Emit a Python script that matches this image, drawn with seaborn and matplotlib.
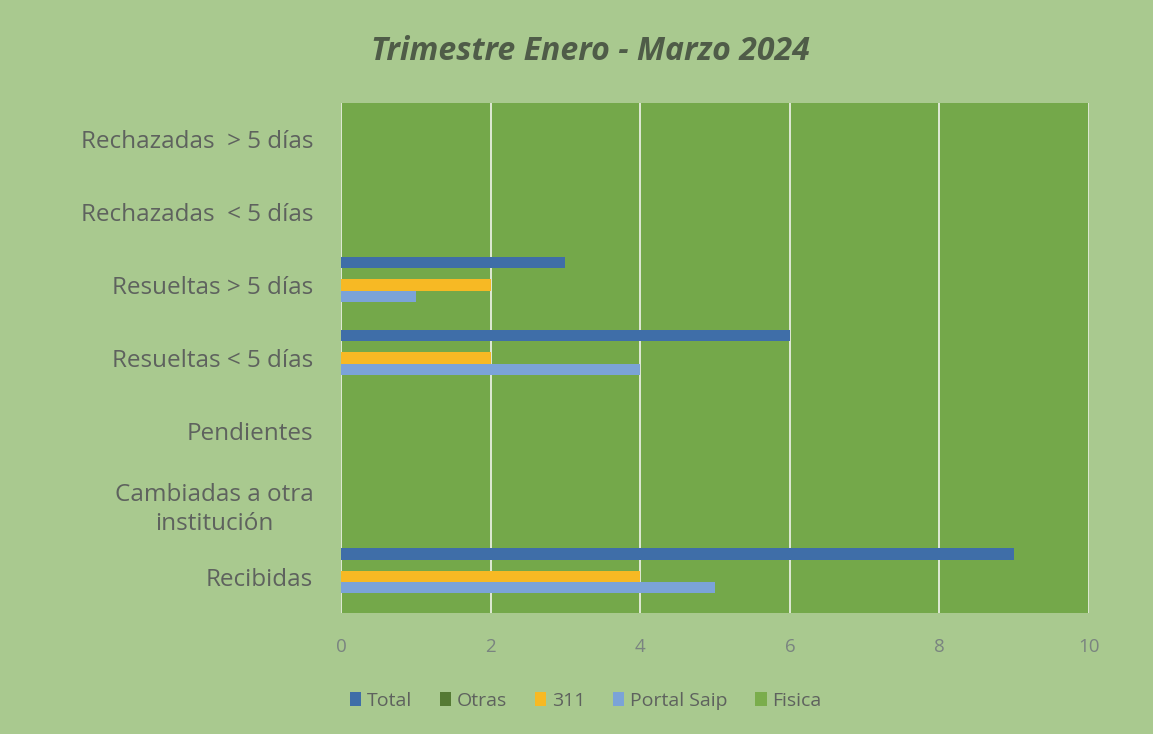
import numpy as np
import pandas as pd
import seaborn as sns
import matplotlib.pyplot as plt

categorias = ["Rechazadas  > 5 días", "Rechazadas  < 5 días", "Resueltas > 5 días",
              "Resueltas < 5 días", "Pendientes", "Cambiadas a otra\ninstitución", "Recibidas"]
series = ["Total", "Otras", "311", "Portal Saip", "Fisica"]
total = [0, 0, 3, 6, 0, 0, 9]
otras = [0, 0, 0, 0, 0, 0, 0]
s311 = [0, 0, 2, 2, 0, 0, 4]
portal = [0, 0, 1, 4, 0, 0, 5]
fisica = [0, 0, 0, 0, 0, 0, 0]
colores = ["#3f6ea8", "#557a34", "#f7b924", "#7ba3d8", "#7aad4c"]

valores = {"Total": total, "Otras": otras, "311": s311, "Portal Saip": portal, "Fisica": fisica}
df = pd.DataFrame([(c, s, valores[s][i]) for s in series for i, c in enumerate(categorias)],
                  columns=["Categoria", "Serie", "Valor"])

sns.set_style("white")
plt.rcParams['font.family'] = ['Open Sans', 'DejaVu Sans']

fig = plt.figure(figsize=(11.53, 7.34), dpi=100)
fig.patch.set_facecolor("#a9c98f")
ax = fig.add_axes([0.2958, 0.1649, 0.6487, 0.6948])
ax.set_facecolor("#74a84a")

sns.barplot(data=df, x="Valor", y="Categoria", hue="Serie", order=categorias,
            hue_order=series, palette=colores, orient="h", width=0.775, gap=0,
            saturation=1, linewidth=0, ax=ax, zorder=3)

ax.set_xlim(0, 10)
ax.set_xticks(range(0, 11, 2))
ax.grid(axis="x", color="#e8eee0", linewidth=1.3, zorder=1)
ax.set_axisbelow(True)
for s in ax.spines.values():
    s.set_visible(False)
ax.set_xlabel("")
ax.set_ylabel("")
ax.tick_params(axis="y", length=0, pad=20, labelsize=17.5, labelcolor="#5e625e")
ax.tick_params(axis="x", length=0, pad=18, labelsize=13.5, labelcolor="#7a8480")
for lbl in ax.get_yticklabels():
    lbl.set_horizontalalignment("right")
    lbl.set_multialignment("center")
    lbl.set_linespacing(1.3)

fig.suptitle("Trimestre Enero - Marzo 2024", x=0.512, y=0.952, fontsize=23,
             fontweight="bold", fontstyle="italic", color="#4f5c48")

handles, labels = ax.get_legend_handles_labels()
ax.get_legend().remove()
for h in handles:
    h.set_linewidth(0)
fig.legend(handles, labels, loc="center", bbox_to_anchor=(0.508, 0.045), ncol=5,
           frameon=False, fontsize=14, handlelength=0.6, handleheight=0.75,
           handletextpad=0.3, columnspacing=1.4, labelcolor="#5e625e")

fig.savefig("out.png", dpi=100, facecolor=fig.get_facecolor())
